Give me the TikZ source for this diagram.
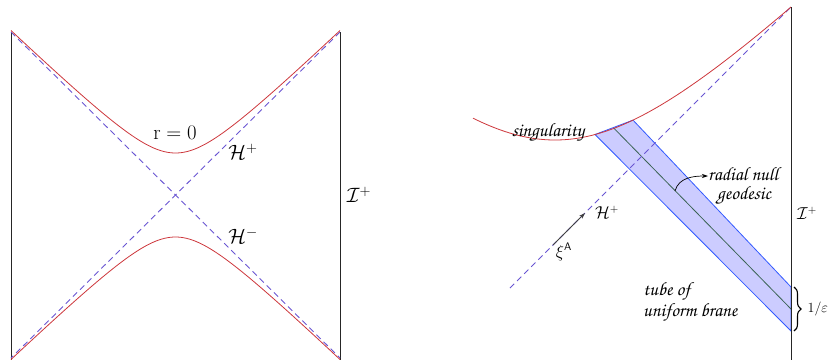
\documentclass[tikz,border=0pt]{standalone}
\usepackage[T1,TU]{fontenc}
\usetikzlibrary{arrows.meta,decorations.pathreplacing}
\newcommand\chan{\fontencoding{T1}\fontfamily{pzc}\fontseries{mb}\fontshape{it}\selectfont}
\definecolor{sing}{RGB}{205,55,60}
\definecolor{hor}{RGB}{105,85,210}
\definecolor{tubefill}{RGB}{204,204,255}
\definecolor{tubeedge}{RGB}{50,90,255}
\definecolor{geo}{RGB}{60,100,85}
\tikzset{
  singline/.style={draw=sing, line width=0.8pt},
  horline/.style={draw=hor, line width=0.9pt, dash pattern=on 6pt off 4pt},
  bdry/.style={draw=black!85, line width=0.9pt},
  biglbl/.style={font=\fontsize{20}{22}\selectfont, inner sep=0pt},
  chanlbl/.style={font=\fontsize{19}{19}\chan, inner sep=0pt, align=left},
  smlbl/.style={font=\fontsize{16}{18}\selectfont, inner sep=0pt},
}
\begin{document}
\begin{tikzpicture}[x=1pt,y=-1pt]
\useasboundingbox (0,0) rectangle (830,360);
% ---------- left panel ----------
\coordinate (TL) at (11,32);
\coordinate (BL) at (11,360);
\coordinate (TR) at (340,32);
\coordinate (BR) at (340,360);
\coordinate (BLd) at (11,358);
\coordinate (BRd) at (340,358);
\draw[bdry] (TL) -- (BL);
\draw[bdry] (TR) -- (BR);
\draw[horline] (TL) -- (BRd);
\draw[horline] (TR) -- (BLd);
\draw[singline] plot[domain=-16.45:16.45, samples=121, smooth]
  ({175.5+10*\x},{195-10*sqrt(4.2*4.2*(1-(\x/16.45)*(\x/16.45))+\x*\x)});
\draw[singline] plot[domain=-16.45:16.45, samples=121, smooth]
  ({175.5+10*\x},{195+10*sqrt(4.2*4.2*(1-(\x/16.45)*(\x/16.45))+\x*\x)});
\node[biglbl] (r0) at (175,133) {$\mathrm{r}=0$};
\node[biglbl] (hp) at (243,152) {$\mathcal{H}^{+}$};
\node[biglbl] (hm) at (243,236) {$\mathcal{H}^{-}$};
\node[biglbl] (scri) at (359,195) {$\mathcal{I}^{+}$};
% ---------- right panel ----------
\coordinate (RT) at (791,7);
\coordinate (RB) at (791,360);
\coordinate (HS) at (510,288);
\coordinate (A) at (595,134.5);
\coordinate (B) at (633,120.1);
\coordinate (C) at (791,287);
\coordinate (D) at (791,331);
\coordinate (M1) at (614,128.3);
\coordinate (M2) at (791,309);
\filldraw[fill=tubefill, draw=tubeedge, line width=0.8pt] (A) -- (B) -- (C) -- (D) -- cycle;
\draw[draw=geo, line width=0.8pt] (M1) -- (M2);
\draw[horline] (HS) -- (RT);
\draw[singline] plot[domain=-8.2:23.6, samples=120, smooth]
  ({555+10*\x},{282.9-10*sqrt(14.29*14.29+\x*\x)});
\draw[bdry] (RT) -- (RB);
% xi arrow
\coordinate (X0) at (553,245);
\coordinate (X1) at (585,213);
\draw[black!75, line width=0.8pt, -{Stealth[length=6pt,width=4pt]}] (X0) -- (X1);
\node[smlbl] (xi) at (564,252) {$\xi^{\mathsf{A}}$};
\node[smlbl] (hpr) at (607,212) {$\mathcal{H}^{+}$};
\node[smlbl] (scrr) at (807,213) {$\mathcal{I}^{+}$};
\node[chanlbl] (sing) at (548,133) {singularity};
\node[chanlbl, anchor=north west] (rad) at (708,167) {radial null\\\hspace*{9pt}geodesic};
\coordinate (RA) at (708,176);
\coordinate (G) at (675,191);
\draw[black, line width=0.7pt, -{Stealth[length=6pt,width=4pt]}] (G) to[out=75,in=180] (RA);
\node[chanlbl, anchor=west] (tube) at (643,302) {tube of\\uniform brane};
\draw[decorate, decoration={brace, amplitude=7pt}, line width=1.1pt] (794,287) -- (794,331);
\node[inner sep=0pt, font=\fontsize{14}{16}\selectfont, anchor=west] (eps) at (807.5,309) {1/$\varepsilon$};
\end{tikzpicture}
\end{document}
